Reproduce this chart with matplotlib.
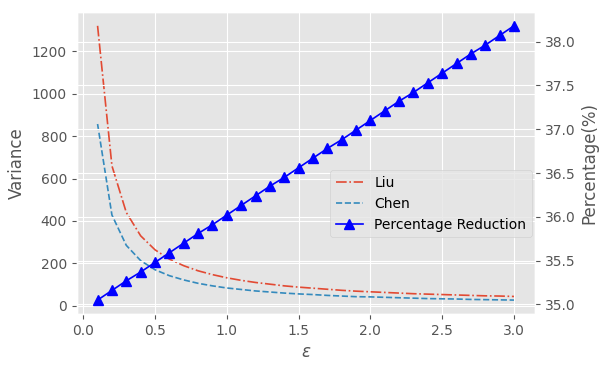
import matplotlib
matplotlib.use("Agg")
import matplotlib.pyplot as plt

plt.style.use("ggplot")

eps = [0.1, 0.2, 0.3, 0.4, 0.5, 0.6, 0.7, 0.8, 0.9, 1.0,
       1.1, 1.2, 1.3, 1.4, 1.5, 1.6, 1.7, 1.8, 1.9, 2.0,
       2.1, 2.2, 2.3, 2.4, 2.5, 2.6, 2.7, 2.8, 2.9, 3.0]
liu = [1320, 660, 440, 330, 264, 220, 189, 165, 147, 132,
       120, 110, 102, 94, 88, 83, 78, 73, 69, 66,
       63, 60, 57, 55, 53, 51, 49, 47, 46, 44]
chen = [857, 428, 285, 213, 170, 142, 122, 106, 94, 84,
        77, 70, 65, 60, 56, 53, 49, 46, 43, 42,
        40, 38, 36, 34, 33, 32, 30, 29, 28, 27]
pct = [35.05, 35.16, 35.27, 35.37, 35.48, 35.59, 35.70, 35.81, 35.91, 36.02,
       36.13, 36.24, 36.35, 36.45, 36.56, 36.67, 36.78, 36.88, 36.99, 37.10,
       37.21, 37.32, 37.42, 37.53, 37.64, 37.75, 37.86, 37.96, 38.07, 38.18]

fig, ax = plt.subplots(figsize=(6.14, 3.67), dpi=100)
l1, = ax.plot(eps, liu, linestyle="-.", color="#E24A33", linewidth=1.2, label="Liu")
l2, = ax.plot(eps, chen, linestyle="--", color="#348ABD", linewidth=1.2, label="Chen")
ax.set_xlabel(r"$\varepsilon$")
ax.set_ylabel("Variance")

ax2 = ax.twinx()
l3, = ax2.plot(eps, pct, color="blue", marker="^", markersize=7.5, linewidth=1.2,
               label="Percentage Reduction")
ax2.set_ylabel("Percentage(%)")
ax2.set_yticks([35.0, 35.5, 36.0, 36.5, 37.0, 37.5, 38.0])

ax2.legend(handles=[l1, l2, l3], loc="lower right", bbox_to_anchor=(1.0, 0.245),
           borderaxespad=0.2)

fig.subplots_adjust(left=0.125, right=0.871, top=0.967, bottom=0.145)
fig.savefig("out.png", dpi=100)
